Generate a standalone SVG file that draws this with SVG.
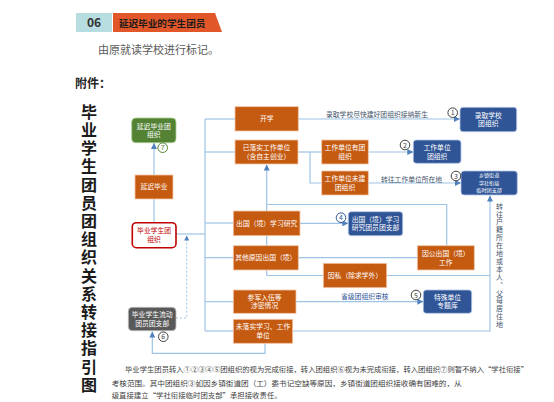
<svg xmlns="http://www.w3.org/2000/svg" width="554" height="402" viewBox="0 0 554 402">
<defs>
<style>
text{font-family:"Noto Sans CJK SC","Liberation Sans",sans-serif;}
.ln{fill:none;stroke:#9dc3e6;stroke-width:1.2;}
.dash{fill:none;stroke:#9dc3e6;stroke-width:1;stroke-dasharray:2 2;}
.or{fill:#c55a11;stroke:#f4c7a8;stroke-width:0.8;}
.bl{fill:#2f5597;stroke:#b4c7e7;stroke-width:0.8;}
.bt{fill:#ffffff;font-size:6.8px;text-anchor:middle;}
.note{fill:#44546a;font-size:6.8px;}
.cc{fill:#ffffff;stroke-width:1;}
.cn{font-size:7px;text-anchor:middle;}
.para{fill:#404040;font-size:7.4px;}
.vt{writing-mode:vertical-rl;}
</style>
<marker id="ah" viewBox="0 0 6 6" refX="6" refY="3" markerWidth="5" markerHeight="5" orient="auto"><path d="M0,0 L6,3 L0,6 z" fill="#4f81bd"/></marker>
</defs>
<rect width="554" height="402" fill="#ffffff"/>

<g id="header">
<rect x="76" y="13" width="36" height="19" fill="#b7dde0"/>
<text x="94" y="27.3" font-size="12" font-weight="bold" fill="#333333" text-anchor="middle">06</text>
<polygon points="113,13 215,13 222,32 113,32" fill="#e2572a"/>
<text x="119" y="26.5" font-size="9.6" font-weight="bold" fill="#1a1a1a">延迟毕业的学生团员</text>
<text x="98" y="53.5" font-size="11" fill="#595959">由原就读学校进行标记。</text>
<text x="75" y="88" font-size="12" font-weight="bold" fill="#262626">附件：</text>
</g>

<g id="title">
<text class="vt" x="89" y="103.7" font-size="16" font-weight="bold" fill="#1a1a1a" letter-spacing="2.2">毕业学生团员团组织关系转接指引图</text>
</g>

<g id="connectors">
<path class="ln" d="M154,175 L154,143" marker-end="url(#ah)"/>
<path class="ln" d="M154,222 L154,199"/>
<path class="ln" d="M176,234 L205,234"/>
<path class="ln" d="M205,119 L205,331"/>
<path class="ln" d="M205,119 L235,119"/>
<path class="ln" d="M205,152 L235,152"/>
<path class="ln" d="M205,223 L233,223"/>
<path class="ln" d="M205,257.7 L233,257.7"/>
<path class="ln" d="M205,301.7 L233,301.7"/>
<path class="ln" d="M205,331 L233,331"/>
<path class="ln" d="M298,119 L460,119" marker-end="url(#ah)"/>
<path class="ln" d="M298,152 L321.7,152"/>
<path class="ln" d="M310,152 L310,183 L321.7,183"/>
<path class="ln" d="M368.3,152 L413.3,152" marker-end="url(#ah)"/>
<path class="ln" d="M368.3,183 L461,183" marker-end="url(#ah)"/>
<path class="ln" d="M266.7,275.5 L266.7,164.5" marker-end="url(#ah)"/>
<path class="ln" d="M446.7,245.7 L446.7,204.5 L266.7,204.5"/>
<path class="ln" d="M266.7,275.5 L323.3,275.5"/>
<path class="ln" d="M298,257.7 L417.3,257.7"/>
<path class="ln" d="M300,223.3 L348.3,223.3" marker-end="url(#ah)"/>
<path class="ln" d="M386.7,275.5 L490,275.5"/>
<path class="ln" d="M292.7,331 L490,331 L490,195.5" marker-end="url(#ah)"/>
<path class="ln" d="M296,301.7 L423.3,301.7" marker-end="url(#ah)"/>
<path class="ln" d="M265,343.3 L265,353.3 L152.3,353.3 L152.3,331.5" marker-end="url(#ah)"/>
<path class="dash" d="M176,318 L186.7,318 L186.7,235.5" marker-end="url(#ah)"/>
</g>

<g id="labels">
<text class="note" x="326" y="117.4">录取学校尽快建好团组织接纳新生</text>
<text class="note" x="381" y="181.7">转往工作单位所在地</text>
<text class="note" x="341" y="298.9" style="fill:#2f5597">省级团组织审核</text>
<text class="vt" x="499.5" y="202.5" font-size="7" fill="#44546a" letter-spacing="0.9">转往户籍所在地或本人、父母居住地</text>
</g>

<g id="n-green">
<rect x="131.7" y="118" width="44.3" height="24.7" rx="4" fill="#548235" stroke="#a9d18e" stroke-width="0.8"/>
<text class="bt"><tspan x="153.8" y="128.9">延迟毕业团</tspan><tspan x="153.8" y="137.4">组织</tspan></text>
</g>
<g id="n-yanchi">
<rect class="or" x="135" y="175" width="38" height="24"/>
<text class="bt" x="154" y="189.4">延迟毕业</text>
</g>
<g id="n-red">
<rect x="132.3" y="222.7" width="43.7" height="25" rx="4" fill="#ffffff" stroke="#c00000" stroke-width="1.6"/>
<text class="bt" style="fill:#c00000"><tspan x="154.1" y="233.4">毕业学生团</tspan><tspan x="154.1" y="242.2">组织</tspan></text>
</g>
<g id="n-gray">
<rect x="128.3" y="307.3" width="47.7" height="23.4" rx="4" fill="#595959" stroke="#bfbfbf" stroke-width="0.8"/>
<text class="bt"><tspan x="152.2" y="317.4">毕业学生流动</tspan><tspan x="152.2" y="325.9">团员团支部</tspan></text>
</g>
<g id="n-kaixue">
<rect class="or" x="235" y="106.7" width="63.3" height="24.3"/>
<text class="bt" x="266.7" y="121.2">开学</text>
</g>
<g id="n-yiluoshi">
<rect class="or" x="235" y="140" width="63" height="24"/>
<text class="bt"><tspan x="266.5" y="150.2">已落实工作单位</tspan><tspan x="266.5" y="158.9">（含自主创业）</tspan></text>
</g>
<g id="n-youtuan">
<rect class="or" x="321.7" y="140" width="46.6" height="24"/>
<text class="bt"><tspan x="345" y="150.2">工作单位有团</tspan><tspan x="345" y="158.9">组织</tspan></text>
</g>
<g id="n-weijian">
<rect class="or" x="321.7" y="171" width="46.6" height="24"/>
<text class="bt"><tspan x="345" y="181.2">工作单位未建</tspan><tspan x="345" y="189.9">团组织</tspan></text>
</g>
<g id="n-luqu">
<rect class="bl" x="460" y="107.3" width="56.7" height="24.4" rx="3"/>
<text class="bt"><tspan x="488.3" y="117.6">录取学校</tspan><tspan x="488.3" y="126.4">团组织</tspan></text>
</g>
<g id="n-gzdw">
<rect class="bl" x="413.3" y="140" width="47.7" height="23.3" rx="3"/>
<text class="bt"><tspan x="437.1" y="150">工作单位</tspan><tspan x="437.1" y="158.6">团组织</tspan></text>
</g>
<g id="n-xiangzhen">
<rect class="bl" x="461" y="171" width="56.3" height="24" rx="3"/>
<text class="bt" style="font-size:5.1px"><tspan x="489.1" y="177.4">乡镇街道</tspan><tspan x="489.1" y="184.8">学社衔接</tspan><tspan x="489.1" y="192.2">临时团支部</tspan></text>
</g>
<g id="n-chuguo">
<rect class="or" x="233.3" y="211" width="66.7" height="24.7"/>
<text class="bt" x="266.7" y="225.7">出国（境）学习研究</text>
</g>
<g id="n-cgtzb">
<rect class="bl" x="348.3" y="211.7" width="54.4" height="24" rx="3"/>
<text class="bt"><tspan x="375.5" y="221.9">出国（境）学习</tspan><tspan x="375.5" y="230.4">研究团员团支部</tspan></text>
</g>
<g id="n-qita">
<rect class="or" x="233.3" y="245.7" width="65" height="24.3"/>
<text class="bt" x="265.8" y="260.2">其他原因出国（境）</text>
</g>
<g id="n-yingong">
<rect class="or" x="417.3" y="245.7" width="57" height="24.3"/>
<text class="bt"><tspan x="445.8" y="255.9">因公出国（境）</tspan><tspan x="445.8" y="264.6">工作</tspan></text>
</g>
<g id="n-yinsi">
<rect class="or" x="323.3" y="263.3" width="63.4" height="24.4"/>
<text class="bt" x="355" y="277.9">因私（除求学外）</text>
</g>
<g id="n-canjun">
<rect class="or" x="233.3" y="290" width="62.7" height="23.3"/>
<text class="bt"><tspan x="264.6" y="299.9">参军入伍等</tspan><tspan x="264.6" y="308.4">涉密情况</tspan></text>
</g>
<g id="n-teshu">
<rect class="bl" x="423.3" y="290" width="48.4" height="23.3" rx="3"/>
<text class="bt"><tspan x="447.5" y="299.9">特殊单位</tspan><tspan x="447.5" y="308.4">专题库</tspan></text>
</g>
<g id="n-weiluoshi">
<rect class="or" x="233.3" y="319.3" width="59.4" height="24"/>
<text class="bt"><tspan x="263" y="329.4">未落实学习、工作</tspan><tspan x="263" y="338.1">单位</tspan></text>
</g>

<g id="markers-num">
<circle class="cc" cx="452.7" cy="112.7" r="4.8" stroke="#404040"/><text class="cn" x="452.7" y="115.2" fill="#404040">1</text>
<circle class="cc" cx="405" cy="145" r="4.8" stroke="#404040"/><text class="cn" x="405" y="147.5" fill="#404040">2</text>
<circle class="cc" cx="456" cy="176" r="4.8" stroke="#404040"/><text class="cn" x="456" y="178.5" fill="#404040">3</text>
<circle class="cc" cx="341" cy="217.7" r="4.8" stroke="#2f5597"/><text class="cn" x="341" y="220.2" fill="#2f5597">4</text>
<circle class="cc" cx="416" cy="295" r="4.8" stroke="#404040"/><text class="cn" x="416" y="297.5" fill="#404040">5</text>
<circle class="cc" cx="163.3" cy="336.7" r="4.8" stroke="#404040"/><text class="cn" x="163.3" y="339.2" fill="#404040">6</text>
<circle class="cc" cx="162.7" cy="147.7" r="4.8" stroke="#548235"/><text class="cn" x="162.7" y="150.2" fill="#548235">7</text>
</g>

<g id="paragraph">
<text class="para" x="125" y="372" textLength="403" lengthAdjust="spacingAndGlyphs">毕业学生团员转入①②③④⑤团组织的视为完成衔接，转入团组织⑥视为未完成衔接，转入团组织⑦则暂不纳入“学社衔接”</text>
<text class="para" x="111.7" y="386" textLength="350" lengthAdjust="spacingAndGlyphs">考核范围。其中团组织③如因乡镇街道团（工）委书记空缺等原因，乡镇街道团组织接收确有困难的，从</text>
<text class="para" x="111.7" y="398">级直接建立“学社衔接临时团支部”承担接收责任。</text>
</g>
</svg>
